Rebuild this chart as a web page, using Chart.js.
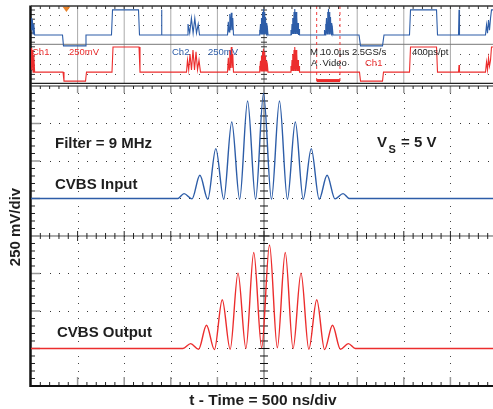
<!DOCTYPE html>
<html>
<head>
<meta charset="utf-8">
<script src="https://cdn.jsdelivr.net/npm/chart.js@4.4.0/dist/chart.umd.min.js"></script>
<style>
  html, body { margin: 0; padding: 0; background: #fff; }
  canvas { display: block; }
</style>
</head>
<body>
<canvas id="scope" width="493" height="409"></canvas>
<script>
// zoomed window: 500 ns/div, 250 mV/div (values in divisions)
const inputTimeNs = [-2500, -925, -858, -773, -688, -603, -517, -432, -346, -261, -176, -90, -5,
  80, 166, 251, 336, 421, 507, 592, 677, 762, 848, 915, 2457];
const inputDiv = [1, 1, 1.13, 0.99, 1.62, 0.98, 2.33, 0.98, 3.04, 0.98, 3.6, 0.98, 3.8,
  0.98, 3.6, 0.98, 3.04, 0.98, 2.33, 0.98, 1.62, 0.99, 1.13, 1, 1];

const outputTimeNs = [-2500, -870, -787, -702, -617, -532, -448, -363, -279, -194, -110, -25, 59,
  143, 228, 312, 397, 481, 566, 650, 735, 820, 905, 980, 2457];
const outputDiv = [-3, -3, -2.87, -3.02, -2.38, -3.03, -1.7, -3.02, -0.99, -3.0, -0.44, -2.98, -0.24,
  -2.98, -0.44, -3.0, -0.99, -3.02, -1.7, -3.03, -2.38, -3.02, -2.87, -3, -3];

// overview record: 10 us/div, drawn in the strip above the zoomed window
const overviewCh2Us = [-50, -49.85, -49.7, -49.55, -49.4, -49.22, -43.24, -43.03, -38.41, -38.2,
  -32.73, -32.51, -26.93, -26.72, -22.1, -22.0, -21.89,
  -16.52, -16.31, -15.94, -15.58, -15.21, -14.85, -14.49, -14.12, -13.84,
  -7.83, -7.66, -7.51, -7.34, -7.19, -7.02, -6.87, -6.70, -6.55,
  -1.07, -0.97, -0.86, -0.75, -0.64, -0.54, -0.43, -0.32, -0.21, -0.11, 0, 0.11, 0.21, 0.32, 0.43, 0.54, 0.64, 0.75, 0.86,
  5.69, 5.79, 5.90, 6.01, 6.12, 6.22, 6.33, 6.44, 6.55, 6.65, 6.76, 6.87, 6.98, 7.08, 7.19, 7.30, 7.40, 7.51, 7.62,
  12.88, 12.98, 13.09, 13.20, 13.30, 13.41, 13.52, 13.63, 13.73, 13.84, 13.95, 14.06, 14.16, 14.27, 14.38, 14.48, 14.59, 14.70, 14.81,
  20.39, 20.71, 25.43, 25.75, 31.22, 31.44, 37.02, 37.23, 41.74, 41.85, 41.95,
  47.53, 47.75, 47.96, 48.18, 48.39, 48.61, 48.82, 49.14];
const overviewCh2Div = [5.81, 5.49, 5.76, 5.39, 5.65, 5.36, 5.36, 5.07, 5.07, 5.36,
  5.36, 6.03, 6.03, 5.36, 5.36, 6.03, 5.36,
  5.36, 5.65, 5.41, 5.81, 5.41, 5.81, 5.41, 5.65, 5.36,
  5.36, 5.71, 5.44, 5.92, 5.49, 5.95, 5.49, 5.81, 5.36,
  5.36, 5.49, 5.36, 5.65, 5.39, 5.81, 5.39, 5.97, 5.39, 6.05, 5.39, 5.97, 5.39, 5.84, 5.39, 5.68, 5.36, 5.52, 5.36,
  5.36, 5.49, 5.36, 5.65, 5.39, 5.81, 5.39, 5.97, 5.39, 6.05, 5.39, 5.97, 5.39, 5.84, 5.39, 5.68, 5.36, 5.52, 5.36,
  5.36, 5.49, 5.36, 5.65, 5.39, 5.81, 5.39, 5.97, 5.39, 6.05, 5.39, 5.97, 5.39, 5.84, 5.39, 5.68, 5.36, 5.52, 5.36,
  5.36, 5.07, 5.07, 5.36, 5.36, 6.03, 6.03, 5.36, 5.36, 6.03, 5.36,
  5.36, 5.63, 5.41, 5.76, 5.49, 5.81, 6.03, 6.03];

const overviewCh1Us = [-50, -49.85, -49.7, -49.55, -49.4, -49.22, -43.13, -42.92, -38.3, -38.09,
  -32.62, -32.4, -26.82, -26.61,
  -16.63, -16.42, -16.16, -15.88, -15.56, -15.24, -14.91, -14.59, -14.27, -13.95, -13.63,
  -7.83, -7.66, -7.51, -7.34, -7.19, -7.02, -6.87, -6.70, -6.55,
  -1.07, -0.97, -0.86, -0.75, -0.64, -0.54, -0.43, -0.32, -0.21, -0.11, 0, 0.11, 0.21, 0.32, 0.43, 0.54, 0.64, 0.75, 0.86,
  5.69, 5.79, 5.90, 6.01, 6.12, 6.22, 6.33, 6.44, 6.55, 6.65, 6.76, 6.87, 6.98, 7.08, 7.19, 7.30, 7.40, 7.51, 7.62,
  20.49, 20.71, 25.43, 25.64, 31.22, 31.44, 37.02, 37.23, 41.74, 41.85, 41.95,
  47.53, 47.75, 47.96, 48.18, 48.39, 48.61, 48.82, 49.14];
const overviewCh1Div = [5.01, 4.43, 4.96, 4.37, 4.83, 4.37, 4.37, 4.13, 4.13, 4.37,
  4.37, 5.04, 5.04, 4.37,
  4.37, 4.69, 4.43, 4.85, 4.43, 4.96, 4.43, 4.91, 4.43, 4.69, 4.37,
  4.37, 4.75, 4.43, 4.96, 4.48, 5.04, 4.48, 4.85, 4.37,
  4.37, 4.53, 4.40, 4.67, 4.40, 4.80, 4.40, 4.91, 4.40, 4.99, 4.40, 4.91, 4.40, 4.80, 4.40, 4.67, 4.40, 4.53, 4.37,
  4.37, 4.53, 4.40, 4.69, 4.40, 4.85, 4.40, 4.96, 4.40, 5.04, 4.40, 4.96, 4.40, 4.85, 4.40, 4.69, 4.40, 4.53, 4.37,
  4.37, 4.13, 4.13, 4.37, 4.37, 5.04, 5.04, 4.37, 4.37, 4.56, 4.37,
  4.37, 4.64, 4.43, 4.75, 4.53, 4.69, 5.04, 5.04];

const zoomWindowUs = [11.3, 16.3];
const triggerUs = -42.4;

const blue = "#2d5da8";
const red = "#ec2d2d";

function points(xs, ys) {
  return xs.map((x, i) => ({ x: x, y: ys[i] }));
}

// graticule, frame and the overview markers
const scopeGraticule = {
  id: "scopeGraticule",
  beforeDatasetsDraw(chart) {
    const { ctx, chartArea, scales } = chart;
    const X = (t) => scales.x.getPixelForValue(t);
    const Y = (d) => scales.y.getPixelForValue(d);
    const XO = (t) => scales.xo.getPixelForValue(t);
    const left = chartArea.left;
    const right = chartArea.right;
    const top = Y(4);
    const bottom = Y(-4);
    const mid = Y(0);
    const cx = X(0);
    const ovTop = chartArea.top;
    const ovBot = Y(4.072);

    const line = (x1, y1, x2, y2, color, w) => {
      ctx.strokeStyle = color;
      ctx.lineWidth = w;
      ctx.beginPath();
      ctx.moveTo(x1, y1);
      ctx.lineTo(x2, y2);
      ctx.stroke();
    };
    const dot = (px, py, color) => {
      ctx.fillStyle = color;
      ctx.fillRect(Math.round(px), Math.round(py), 1, 1);
    };

    ctx.save();

    // dotted rows and columns of the zoomed window
    for (let d = -3; d <= 3; d++) {
      if (d === 0) continue;
      for (let i = -24; i <= 24; i++) dot(X(i * 100), Y(d), "#333");
    }
    for (let k = -4; k <= 4; k++) {
      if (k === 0) continue;
      for (let j = -19; j <= 19; j++) dot(X(k * 500), Y(j * 0.2), "#444");
    }

    // centre cross with ticks
    line(cx, top, cx, bottom, "#8c8c8c", 1.5);
    line(left, mid, right, mid, "#555", 1);
    for (let j = -19; j <= 19; j++) {
      const h = j % 5 === 0 ? 5.5 : 4;
      line(cx - h, Y(j * 0.2), cx + h, Y(j * 0.2), "#111", 1);
    }
    for (let i = -24; i <= 24; i++) {
      const h = i % 5 === 0 ? 5 : 3;
      line(X(i * 100), mid - h, X(i * 100), mid + h, "#222", 1);
    }

    // edge ticks
    for (let j = -19; j <= 19; j++) {
      if (j % 5 === 0) line(left, Y(j * 0.2), left + 9, Y(j * 0.2), "#999", 1.5);
      else line(left, Y(j * 0.2), left + 4, Y(j * 0.2), "#222", 1);
    }
    for (let i = -24; i <= 24; i++) {
      const px = X(i * 100);
      if (i % 5 === 0) {
        line(px, bottom, px, bottom - 9, "#999", 1.5);
        line(px, top, px, top + 7, "#999", 1.5);
      } else {
        line(px, bottom, px, bottom - 4, "#222", 1);
        line(px, top, px, top + 3, "#222", 1);
      }
    }

    // overview strip graticule
    for (let k = -4; k <= 4; k++) line(X(k * 500), ovTop, X(k * 500), ovBot, k === 0 ? "#666" : "#aaa", 1);
    line(left, Y(5.112), right, Y(5.112), "#777", 1);
    for (const d of [5.89, 5.63, 4.85, 4.59, 4.32]) {
      for (let i = -24; i <= 24; i++) if (i % 5 !== 0) dot(X(i * 100), Y(d), "#555");
    }
    for (let py = ovTop + 4; py < ovBot - 1; py += 4.6) {
      line(cx - 3, py, cx + 3, py, "#333", 1);
      line(left, py, left + 4, py, "#333", 1);
    }
    for (let i = -24; i <= 24; i++) line(X(i * 100), ovTop, X(i * 100), ovTop + 3, "#333", 1);

    // zoom window and trigger markers
    ctx.setLineDash([3, 3]);
    for (const t of zoomWindowUs) line(XO(t), ovTop, XO(t), ovBot, "#f03c3c", 1);
    ctx.setLineDash([]);
    ctx.fillStyle = "#ee2a2a";
    ctx.fillRect(XO(zoomWindowUs[0]), Y(4.185), XO(zoomWindowUs[1]) - XO(zoomWindowUs[0]), 3);
    const tx = XO(triggerUs);
    ctx.fillStyle = "#e8822a";
    ctx.beginPath();
    ctx.moveTo(tx - 4, ovTop + 0.5);
    ctx.lineTo(tx + 4, ovTop + 0.5);
    ctx.lineTo(tx, ovTop + 6);
    ctx.closePath();
    ctx.fill();

    // frame
    line(left - 0.5, ovTop - 0.5, left - 0.5, bottom + 1, "#111", 2.5);
    line(left, bottom, right, bottom, "#111", 2);
    line(left, ovTop, right, ovTop, "#333", 1.5);
    line(left, ovBot, right, ovBot, "#222", 1.2);
    line(left, top, right, top, "#222", 1.2);

    ctx.restore();
  },
};

const scopeLabels = {
  id: "scopeLabels",
  afterDatasetsDraw(chart) {
    const { ctx } = chart;
    const bold = (size) => "bold " + size + 'px "Liberation Sans", Arial, sans-serif';
    ctx.save();
    ctx.textBaseline = "alphabetic";
    ctx.textAlign = "left";
    ctx.fillStyle = "#1e1e1e";
    ctx.font = bold(15);
    ctx.fillText("Filter = 9 MHz", 55, 148);
    ctx.fillText("CVBS Input", 55, 189);
    ctx.fillText("CVBS Output", 57, 337);
    ctx.fillText("V", 377, 147);
    ctx.fillText("= 5 V", 401, 147);
    ctx.font = bold(11);
    ctx.fillText("S", 388.5, 153);

    ctx.font = bold(15.5);
    ctx.textAlign = "center";
    ctx.fillText("t - Time = 500 ns/div", 263, 405);

    ctx.save();
    ctx.translate(16, 227);
    ctx.rotate(-Math.PI / 2);
    ctx.font = bold(15);
    ctx.textBaseline = "middle";
    ctx.fillText("250 mV/div", 0, 0);
    ctx.restore();

    // overview readouts
    ctx.textAlign = "left";
    ctx.font = '9.5px "Liberation Sans", Arial, sans-serif';
    ctx.fillStyle = red;
    ctx.fillText("Ch1", 32, 55);
    ctx.fillText("250mV", 69, 55);
    ctx.fillText("Ch1", 365, 65.5);
    ctx.fillStyle = blue;
    ctx.fillText("Ch2", 172, 55);
    ctx.fillText("250mV", 208, 55);
    ctx.fillStyle = "#222";
    ctx.fillText("M 10.0\u00b5s 2.5GS/s", 310, 55);
    ctx.fillText("400ps/pt", 412, 55);
    ctx.fillText("A  Video", 311, 65.5);
    ctx.restore();
  },
};

new Chart(document.getElementById("scope"), {
  type: "line",
  data: {
    datasets: [
      {
        label: "CVBS Input",
        data: points(inputTimeNs, inputDiv),
        xAxisID: "x",
        yAxisID: "y",
        borderColor: blue,
        borderWidth: 1.4,
        cubicInterpolationMode: "monotone",
        pointRadius: 0,
      },
      {
        label: "CVBS Output",
        data: points(outputTimeNs, outputDiv),
        xAxisID: "x",
        yAxisID: "y",
        borderColor: red,
        borderWidth: 1.4,
        cubicInterpolationMode: "monotone",
        pointRadius: 0,
      },
      {
        label: "Ch2 overview",
        data: points(overviewCh2Us, overviewCh2Div),
        xAxisID: "xo",
        yAxisID: "y",
        borderColor: blue,
        borderWidth: 1.1,
        tension: 0,
        pointRadius: 0,
      },
      {
        label: "Ch1 overview",
        data: points(overviewCh1Us, overviewCh1Div),
        xAxisID: "xo",
        yAxisID: "y",
        borderColor: red,
        borderWidth: 1.1,
        tension: 0,
        pointRadius: 0,
      },
    ],
  },
  options: {
    responsive: false,
    animation: false,
    layout: { padding: { top: 6, left: 31, right: 0, bottom: 23 } },
    plugins: { legend: { display: false }, tooltip: { enabled: false } },
    scales: {
      x: { type: "linear", display: false, min: -2500, max: 2457 },
      xo: { type: "linear", display: false, min: -50, max: 49.14 },
      y: { type: "linear", display: false, min: -4, max: 6.1333 },
    },
  },
  plugins: [scopeGraticule, scopeLabels],
});
</script>
</body>
</html>
